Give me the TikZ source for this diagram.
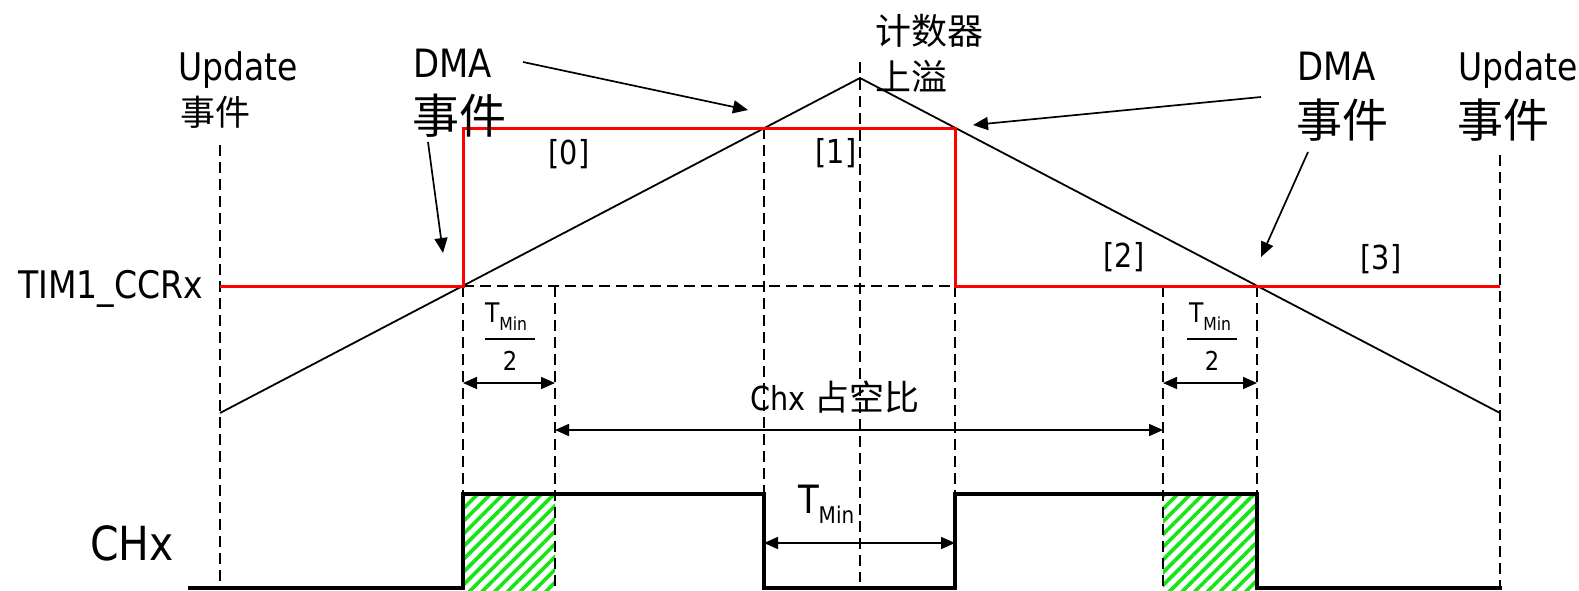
\documentclass[tikz,border=0pt]{standalone}
\usepackage{fontspec}
\setmainfont{DejaVu Sans}[FakeStretch=0.87]
\newfontfamily\cjk{Noto Sans CJK SC}
\usetikzlibrary{arrows.meta,patterns.meta}
\definecolor{hatchgreen}{RGB}{20,230,20}
\definecolor{sigred}{RGB}{255,0,0}
\newcommand{\fsz}[1]{\fontsize{#1}{#1}\selectfont}
\tikzset{
  lbl/.style={inner sep=0pt, outer sep=0pt},
  guide/.style={line width=1.4pt, dash pattern=on 11pt off 6pt},
  redsig/.style={sigred, line width=3pt, line join=miter},
  chsig/.style={line width=3.6pt, line join=miter},
  ramp/.style={line width=1.8pt},
  evarrow/.style={line width=1.7pt, -{Triangle[length=15pt,width=13pt]}},
  dimarrow/.style={line width=1.6pt, {Triangle[length=14pt,width=12pt]}-{Triangle[length=14pt,width=12pt]}},
  hatch/.style={pattern={Lines[angle=45,distance=9pt,line width=3.6pt]}, pattern color=hatchgreen},
  barline/.style={line width=1.6pt}
}
\begin{document}
\begin{tikzpicture}[x=1pt,y=-1pt]
\useasboundingbox (0,0) rectangle (1579,590);
% key points
\coordinate (rampL) at (220,413);
\coordinate (peak) at (860,78);
\coordinate (rampR) at (1500,413);
% hatched regions
\fill[hatch] (463,494) rectangle (555,590);
\fill[hatch] (1163,494) rectangle (1257,590);
% guides
\draw[guide] (220,145) -- (220,590);
\draw[guide] (1500,155) -- (1500,590);
\draw[guide] (463,286) -- (463,590);
\draw[guide] (555,286) -- (555,590);
\draw[guide] (764,128) -- (764,590);
\draw[guide] (860,62) -- (860,582);
\draw[guide] (955,286) -- (955,590);
\draw[guide] (1163,286) -- (1163,590);
\draw[guide] (1257,286) -- (1257,590);
\draw[guide] (463,286) -- (955,286);
% ramp
\draw[ramp] (rampL) -- (peak) -- (rampR);
% red CCR signal
\draw[redsig] (220,286) -- (463,286) -- (463,128) -- (955,128) -- (955,286) -- (1500,286);
% CHx signal
\draw[chsig] (188,588) -- (463,588) -- (463,494) -- (764,494) -- (764,588) -- (955,588) -- (955,494) -- (1257,494) -- (1257,588) -- (1502,588);
% labels
\node[lbl, anchor=base west] (updL) at (178,80) {\fsz{38}Update};
\node[lbl] (updLcn) at (215,112) {\cjk\fsz{35}事件};
\node[lbl, anchor=base west] (dmaL) at (413,77) {\fsz{39}DMA};
\node[lbl] (dmaLcn) at (459,116) {\cjk\fsz{47}事件};
\node[lbl, anchor=west] (ovf1) at (875,31) {\cjk\fsz{36}计数器};
\node[lbl, anchor=west] (ovf2) at (875,76) {\cjk\fsz{36}上溢};
\node[lbl, anchor=base west] (dmaR) at (1297,80) {\fsz{39}DMA};
\node[lbl] (dmaRcn) at (1342,120) {\cjk\fsz{46}事件};
\node[lbl, anchor=base west] (updR) at (1458,80) {\fsz{38}Update};
\node[lbl] (updRcn) at (1503,120) {\cjk\fsz{46}事件};
\node[lbl, anchor=base east] (ccr) at (203,298) {\fsz{38}TIM1\_CCRx};
\node[lbl, anchor=base west] (chx) at (90,560) {\fsz{47}CHx};
\node[lbl] (i0) at (569,154) {\fsz{33}[0]};
\node[lbl] (i1) at (836,153) {\fsz{33}[1]};
\node[lbl] (i2) at (1124,257) {\fsz{33}[2]};
\node[lbl] (i3) at (1381,259) {\fsz{33}[3]};
\node[lbl, anchor=base west] (duty) at (750,410) {\fsz{33}Chx {\cjk\fsz{35}占空比}};
% fraction left
\node[lbl, anchor=base west] (fT1) at (485,322) {\fsz{27}T};
\node[lbl, anchor=base west] (fM1) at (fT1.base east) [yshift=-8pt] {\fsz{18}Min};
\draw[barline] (485,339) -- (535,339);
\node[lbl] (f21) at (510,361) {\fsz{26}2};
% fraction right
\node[lbl, anchor=base west] (fT2) at (1189,322) {\fsz{27}T};
\node[lbl, anchor=base west] (fM2) at (fT2.base east) [yshift=-8pt] {\fsz{18}Min};
\draw[barline] (1187,339) -- (1237,339);
\node[lbl] (f22) at (1212,361) {\fsz{26}2};
% center TMin
\node[lbl, anchor=base west] (cT) at (798,513) {\fsz{39}T};
\node[lbl, anchor=base west] (cM) at (cT.base east) [yshift=-10pt] {\fsz{23}Min};
% arrow anchor coordinates
\coordinate (a1s) at (523,62);   \coordinate (a1e) at (748,110);
\coordinate (a2s) at (1261,97);  \coordinate (a2e) at (973,125);
\coordinate (a3s) at (428,142);  \coordinate (a3e) at (443,253);
\coordinate (a4s) at (1308,152); \coordinate (a4e) at (1261,257);
\draw[evarrow] (a1s) -- (a1e);
\draw[evarrow] (a2s) -- (a2e);
\draw[evarrow] (a3s) -- (a3e);
\draw[evarrow] (a4s) -- (a4e);
% dimension arrows
\coordinate (d1a) at (463,383); \coordinate (d1b) at (555,383);
\coordinate (d2a) at (1163,383); \coordinate (d2b) at (1257,383);
\coordinate (d3a) at (555,430); \coordinate (d3b) at (1163,430);
\coordinate (d4a) at (764,543); \coordinate (d4b) at (955,543);
\draw[dimarrow] (d1a) -- (d1b);
\draw[dimarrow] (d2a) -- (d2b);
\draw[dimarrow] (d3a) -- (d3b);
\draw[dimarrow] (d4a) -- (d4b);
\end{tikzpicture}
\end{document}
